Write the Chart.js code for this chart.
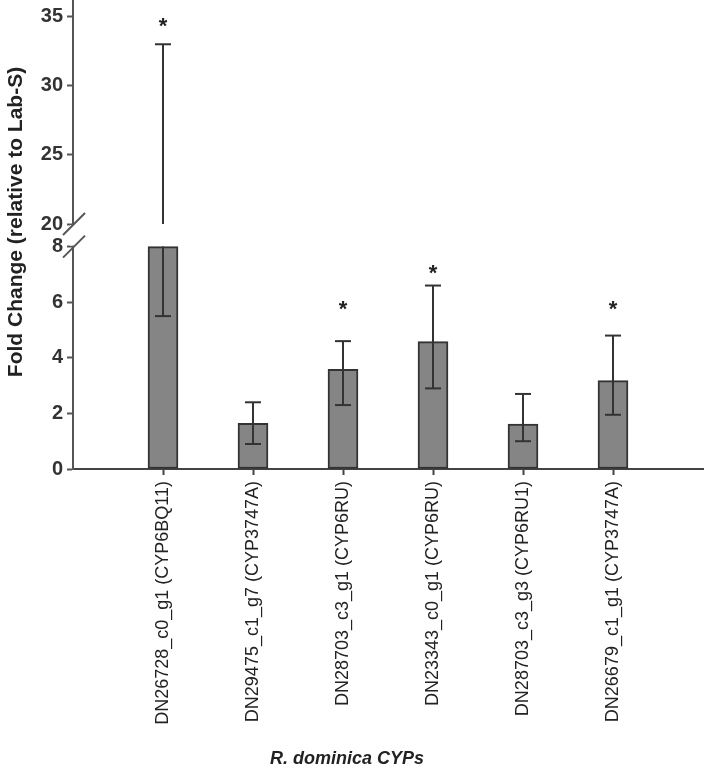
<!DOCTYPE html>
<html>
<head>
<meta charset="utf-8">
<script src="https://cdn.jsdelivr.net/npm/chart.js@4.4.1/dist/chart.umd.min.js"></script>
<style>
  html, body { margin: 0; padding: 0; background: #fff; }
</style>
</head>
<body>
<canvas id="chart" width="709" height="770"></canvas>
<script>
// data
const genes = [
  "DN26728_c0_g1 (CYP6BQ11)",
  "DN29475_c1_g7 (CYP3747A)",
  "DN28703_c3_g1 (CYP6RU)",
  "DN23343_c0_g1 (CYP6RU)",
  "DN28703_c3_g3 (CYP6RU1)",
  "DN26679_c1_g1 (CYP3747A)"
];
const foldChange = [19.25, 1.64, 3.59, 4.58, 1.62, 3.18];
const errLow = [5.5, 0.9, 2.3, 2.9, 1.0, 1.95];
const errHigh = [33.0, 2.4, 4.6, 6.6, 2.7, 4.8];
const starAt = [34.6, null, 5.9, 7.2, null, 5.9];
const lowerTicks = [0, 2, 4, 6, 8];
const upperTicks = [20, 25, 30, 35];
const breakLow = 8;
const breakHigh = 20;

const FONT = "'Liberation Sans', Arial, sans-serif";
const ctx = document.querySelector("#chart").getContext("2d");

// category slots with an empty one at each end, like the original axis
const labels = ["", ...genes, ""];
const shown = [null, ...foldChange.map((v) => Math.min(v, breakLow)), null];

const fixLeft = (s) => {
  s.width = 73;
  s.paddingTop = 0;
  s.paddingBottom = 0;
};

const yAxis = (extra) => ({
  position: "left",
  stack: "fold",
  border: { color: "#555", width: 2 },
  grid: { display: true, drawOnChartArea: false, tickLength: 6, tickWidth: 2, tickColor: "#555" },
  ticks: { color: "#333", padding: 4, font: { family: FONT, size: 20, weight: "bold" } },
  afterFit: fixLeft,
  ...extra,
});

// error bars, stars, axis break and titles
const extras = {
  id: "extras",
  afterDatasetsDraw(chart) {
    const c = chart.ctx;
    const x = chart.scales.x;
    const lo = chart.scales.y;
    const hi = chart.scales.y2;
    c.save();
    c.strokeStyle = "#333";
    c.lineWidth = 2;
    const cap = (px, py) => {
      c.beginPath();
      c.moveTo(px - 8, py);
      c.lineTo(px + 8, py);
      c.stroke();
    };
    foldChange.forEach((v, i) => {
      const px = x.getPixelForValue(i + 1);
      const pLow = lo.getPixelForValue(errLow[i]);
      if (errHigh[i] > breakLow) {
        c.beginPath();
        c.moveTo(px, pLow);
        c.lineTo(px, lo.getPixelForValue(breakLow));
        c.stroke();
        cap(px, pLow);
        const pHigh = hi.getPixelForValue(errHigh[i]);
        c.beginPath();
        c.moveTo(px, hi.getPixelForValue(breakHigh));
        c.lineTo(px, pHigh);
        c.stroke();
        cap(px, pHigh);
      } else {
        const pHigh = lo.getPixelForValue(errHigh[i]);
        c.beginPath();
        c.moveTo(px, pLow);
        c.lineTo(px, pHigh);
        c.stroke();
        cap(px, pLow);
        cap(px, pHigh);
      }
      if (starAt[i] != null) {
        const sc = starAt[i] > breakLow ? hi : lo;
        c.fillStyle = "#222";
        c.font = "bold 22px " + FONT;
        c.textAlign = "center";
        c.textBaseline = "middle";
        c.fillText("*", px, sc.getPixelForValue(starAt[i]) + 5);
      }
    });
    c.restore();
  },
  afterDraw(chart) {
    const c = chart.ctx;
    const ax = chart.chartArea.left;
    const yTop = chart.scales.y2.getPixelForValue(breakHigh);
    const yBot = chart.scales.y.getPixelForValue(breakLow);
    c.save();
    // gap in the axis line
    c.fillStyle = "#fff";
    c.fillRect(ax - 3, yTop + 1, 6, yBot - yTop - 2);
    // break marks
    c.strokeStyle = "#555";
    c.lineWidth = 2;
    [yTop, yBot].forEach((yy) => {
      c.beginPath();
      c.moveTo(ax - 10, yy + 11);
      c.lineTo(ax + 12, yy - 11);
      c.stroke();
    });
    // axis titles
    c.fillStyle = "#222";
    c.textAlign = "center";
    c.textBaseline = "middle";
    c.font = "bold italic 18px " + FONT;
    c.fillText("R. dominica CYPs", 347, 759);
    c.translate(16, 222);
    c.rotate(-Math.PI / 2);
    c.font = "bold 21px " + FONT;
    c.fillText("Fold Change (relative to Lab-S)", 0, 0);
    c.restore();
  },
};

new Chart(ctx, {
  type: "bar",
  data: {
    labels: labels,
    datasets: [
      {
        label: "Fold change",
        data: shown,
        yAxisID: "y",
        backgroundColor: "#858585",
        borderColor: "#333",
        borderWidth: 2,
        borderSkipped: false,
        barThickness: 30,
      },
    ],
  },
  options: {
    responsive: false,
    animation: false,
    events: [],
    layout: { padding: { top: 0, right: 6, left: 0, bottom: 0 } },
    plugins: {
      legend: { display: false },
      tooltip: { enabled: false },
    },
    scales: {
      x: {
        type: "category",
        offset: false,
        border: { color: "#444", width: 2 },
        grid: {
          display: true,
          offset: false,
          drawOnChartArea: false,
          tickLength: 6,
          tickWidth: 2,
          tickColor: (c) => (c.index === 0 || c.index === labels.length - 1 ? "rgba(0,0,0,0)" : "#444"),
        },
        ticks: {
          autoSkip: false,
          minRotation: 90,
          maxRotation: 90,
          padding: 6,
          color: "#222",
          font: { family: FONT, size: 18 },
        },
        afterFit: (s) => {
          s.height = 301;
          s.paddingLeft = 0;
          s.paddingRight = 0;
        },
      },
      y: yAxis({
        stackWeight: 233.5,
        min: 0,
        max: 8.4,
        afterBuildTicks: (s) => {
          s.ticks = lowerTicks.map((v) => ({ value: v }));
        },
      }),
      y2: yAxis({
        stackWeight: 235.5,
        min: 19.17,
        max: 36.2,
        afterBuildTicks: (s) => {
          s.ticks = upperTicks.map((v) => ({ value: v }));
        },
      }),
    },
  },
  plugins: [extras],
});
</script>
</body>
</html>
